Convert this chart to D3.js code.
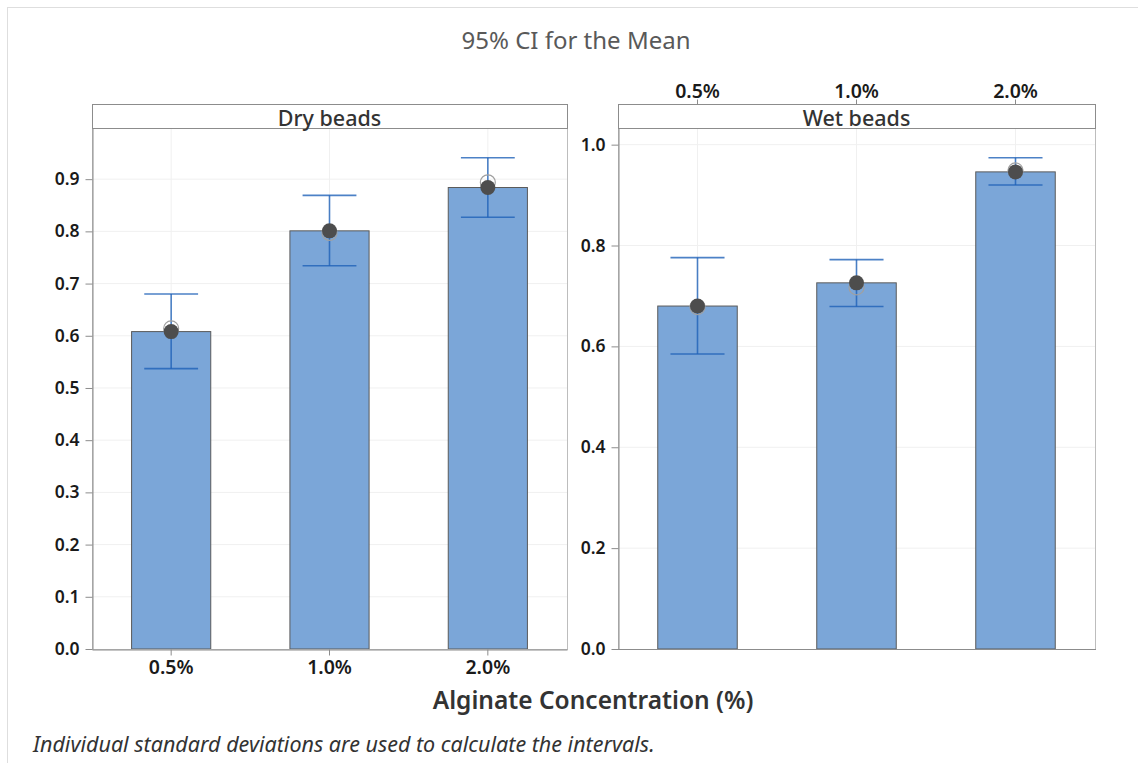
<!DOCTYPE html>
<html>
<head>
<meta charset="utf-8">
<script src="https://cdn.jsdelivr.net/npm/d3@7"></script>
<style>
    body { margin: 0; background: #fff; }
    svg { display: block; font-family: 'Noto Sans', 'Open Sans', sans-serif; }
</style>
</head>
<body>
<svg id="chart"></svg>
<script>
// values
const concentrations = ['0.5%', '1.0%', '2.0%']
const panelNames = ['Dry beads', 'Wet beads']

const dryMeans = [0.608, 0.801, 0.884]
const dryLower = [0.537, 0.734, 0.827]
const dryUpper = [0.680, 0.869, 0.941]
const dryMedians = [0.614, 0.797, 0.894]

const wetMeans = [0.680, 0.726, 0.946]
const wetLower = [0.585, 0.679, 0.920]
const wetUpper = [0.776, 0.772, 0.974]
const wetMedians = [0.678, 0.717, 0.949]

const dryTicks = [0, 0.1, 0.2, 0.3, 0.4, 0.5, 0.6, 0.7, 0.8, 0.9]
const wetTicks = [0, 0.2, 0.4, 0.6, 0.8, 1.0]

class IntervalPlot {
    constructor(_svgId) {
        this.width = 1138
        this.height = 763
        this.svg = d3.select('#' + _svgId)
            .attr('width', this.width)
            .attr('height', this.height)

        this.top = 128
        this.bottom = 649
        this.stripHeight = 24

        this.panels = [
            {
                name: panelNames[0], left: 92, right: 567, yMax: 0.998,
                means: dryMeans, lower: dryLower, upper: dryUpper, medians: dryMedians,
                ticks: dryTicks, xAxis: 'bottom',
            },
            {
                name: panelNames[1], left: 618, right: 1095, yMax: 1.033,
                means: wetMeans, lower: wetLower, upper: wetUpper, medians: wetMedians,
                ticks: wetTicks, xAxis: 'top',
            },
        ]

        this.drawFrame()
        this.panels.forEach(p => this.drawPanel(p))
        this.drawLabels()
    }

    drawFrame() {
        // light page border, only top and left show
        this.svg.append('rect')
            .attr('x', 7.5).attr('y', 7.5)
            .attr('width', this.width + 20).attr('height', this.height + 20)
            .attr('fill', 'none')
            .attr('stroke', '#dedede')
    }

    styleTicks(axisG, size) {
        axisG.select('.domain').attr('stroke', '#8c8c8c')
        axisG.selectAll('.tick line').attr('stroke', '#8c8c8c')
        axisG.selectAll('.tick text')
            .attr('font-size', size)
            .attr('font-weight', 600)
            .attr('fill', '#1a1a1a')
            .attr('font-family', "'Noto Sans', sans-serif")
    }

    drawPanel(p) {
        let svg = this.svg
        let x = d3.scaleBand()
            .domain(concentrations)
            .range([p.left, p.right])
            .paddingInner(0.5)
            .paddingOuter(0.25)
        let y = d3.scaleLinear()
            .domain([0, p.yMax])
            .range([this.bottom, this.top])
        let cx = d => x(d.cat) + x.bandwidth() / 2

        let g = svg.append('g').attr('class', 'panel')

        // gridlines
        g.append('g').selectAll('line')
            .data(p.ticks.filter(d => d > 0))
            .join('line')
            .attr('x1', p.left).attr('x2', p.right)
            .attr('y1', d => y(d)).attr('y2', d => y(d))
            .attr('stroke', '#f0f0f0')
        g.append('g').selectAll('line')
            .data(concentrations)
            .join('line')
            .attr('x1', d => x(d) + x.bandwidth() / 2)
            .attr('x2', d => x(d) + x.bandwidth() / 2)
            .attr('y1', this.top).attr('y2', this.bottom)
            .attr('stroke', '#f0f0f0')

        let rows = concentrations.map((c, i) => ({
            cat: c, mean: p.means[i], lo: p.lower[i], hi: p.upper[i], med: p.medians[i],
        }))

        // bars
        g.append('g').selectAll('rect')
            .data(rows)
            .join('rect')
            .attr('x', d => x(d.cat))
            .attr('width', x.bandwidth())
            .attr('y', d => y(d.mean))
            .attr('height', d => y(0) - y(d.mean))
            .attr('fill', '#7ba6d8')
            .attr('stroke', '#5a5a5a')
            .attr('stroke-width', 1)

        // intervals
        let capHalf = x.bandwidth() * 0.34
        let ci = g.append('g')
            .attr('stroke', '#1f62b8')
            .attr('stroke-opacity', 0.8)
            .attr('stroke-width', 1.6)
        ci.selectAll('line.stem')
            .data(rows)
            .join('line')
            .attr('class', 'stem')
            .attr('x1', cx).attr('x2', cx)
            .attr('y1', d => y(d.lo)).attr('y2', d => y(d.hi))
        ci.selectAll('line.cap-hi')
            .data(rows)
            .join('line')
            .attr('class', 'cap-hi')
            .attr('x1', d => cx(d) - capHalf)
            .attr('x2', d => cx(d) + capHalf)
            .attr('y1', d => y(d.hi)).attr('y2', d => y(d.hi))
        ci.selectAll('line.cap-lo')
            .data(rows)
            .join('line')
            .attr('class', 'cap-lo')
            .attr('x1', d => cx(d) - capHalf)
            .attr('x2', d => cx(d) + capHalf)
            .attr('y1', d => y(d.lo)).attr('y2', d => y(d.lo))

        // hollow symbol then filled mean
        g.append('g').selectAll('circle')
            .data(rows)
            .join('circle')
            .attr('cx', cx)
            .attr('cy', d => y(d.med))
            .attr('r', 7.5)
            .attr('fill', 'none')
            .attr('stroke', '#a0a0a0')
            .attr('stroke-width', 1.2)
        g.append('g').selectAll('circle')
            .data(rows)
            .join('circle')
            .attr('cx', cx)
            .attr('cy', d => y(d.mean))
            .attr('r', 7.5)
            .attr('fill', '#4d4d4d')

        // plot area border
        g.append('rect')
            .attr('x', p.left + 0.5).attr('y', this.top + 0.5)
            .attr('width', p.right - p.left).attr('height', this.bottom - this.top)
            .attr('fill', 'none')
            .attr('stroke', '#bdbdbd')

        // strip
        let stripTop = this.top - this.stripHeight
        g.append('rect')
            .attr('x', p.left + 0.5).attr('y', stripTop + 0.5)
            .attr('width', p.right - p.left).attr('height', this.stripHeight)
            .attr('fill', '#fff')
            .attr('stroke', '#8c8c8c')
        g.append('text')
            .attr('x', (p.left + p.right) / 2)
            .attr('y', this.top - 2)
            .attr('text-anchor', 'middle')
            .attr('font-size', 21.5)
            .attr('font-weight', 500)
            .attr('fill', '#333')
            .text(p.name)

        // y axis
        let yAxis = g.append('g')
            .attr('transform', `translate(${p.left + 0.5},0)`)
            .call(d3.axisLeft(y).tickValues(p.ticks).tickFormat(d3.format('.1f'))
                .tickSize(7).tickSizeOuter(0).tickPadding(6))
        this.styleTicks(yAxis, 17.5)

        // x axis, bottom for dry, top for wet (above the strip)
        let xAxis
        if (p.xAxis === 'bottom') {
            xAxis = g.append('g')
                .attr('transform', `translate(0,${this.bottom + 0.5})`)
                .call(d3.axisBottom(x).tickSize(6).tickSizeOuter(0).tickPadding(5))
        } else {
            xAxis = g.append('g')
                .attr('transform', `translate(0,${stripTop + 0.5})`)
                .call(d3.axisTop(x).tickSize(5).tickSizeOuter(0).tickPadding(2))
            xAxis.select('.domain').remove()
            // wet panel bottom axis line without labels
            g.append('line')
                .attr('x1', p.left).attr('x2', p.right + 1)
                .attr('y1', this.bottom + 0.5).attr('y2', this.bottom + 0.5)
                .attr('stroke', '#8c8c8c')
        }
        this.styleTicks(xAxis, 19.5)
    }

    drawLabels() {
        this.svg.append('text')
            .attr('x', 576).attr('y', 49)
            .attr('text-anchor', 'middle')
            .attr('font-size', 24)
            .attr('fill', '#595959')
            .text('95% CI for the Mean')
        this.svg.append('text')
            .attr('x', 593).attr('y', 709)
            .attr('text-anchor', 'middle')
            .attr('font-size', 24.5)
            .attr('font-weight', 600)
            .attr('fill', '#333')
            .text('Alginate Concentration (%)')
        this.svg.append('text')
            .attr('x', 33).attr('y', 752)
            .attr('font-size', 21.5)
            .attr('font-style', 'italic')
            .attr('fill', '#333')
            .text('Individual standard deviations are used to calculate the intervals.')
    }
}

new IntervalPlot('chart')
</script>
</body>
</html>
